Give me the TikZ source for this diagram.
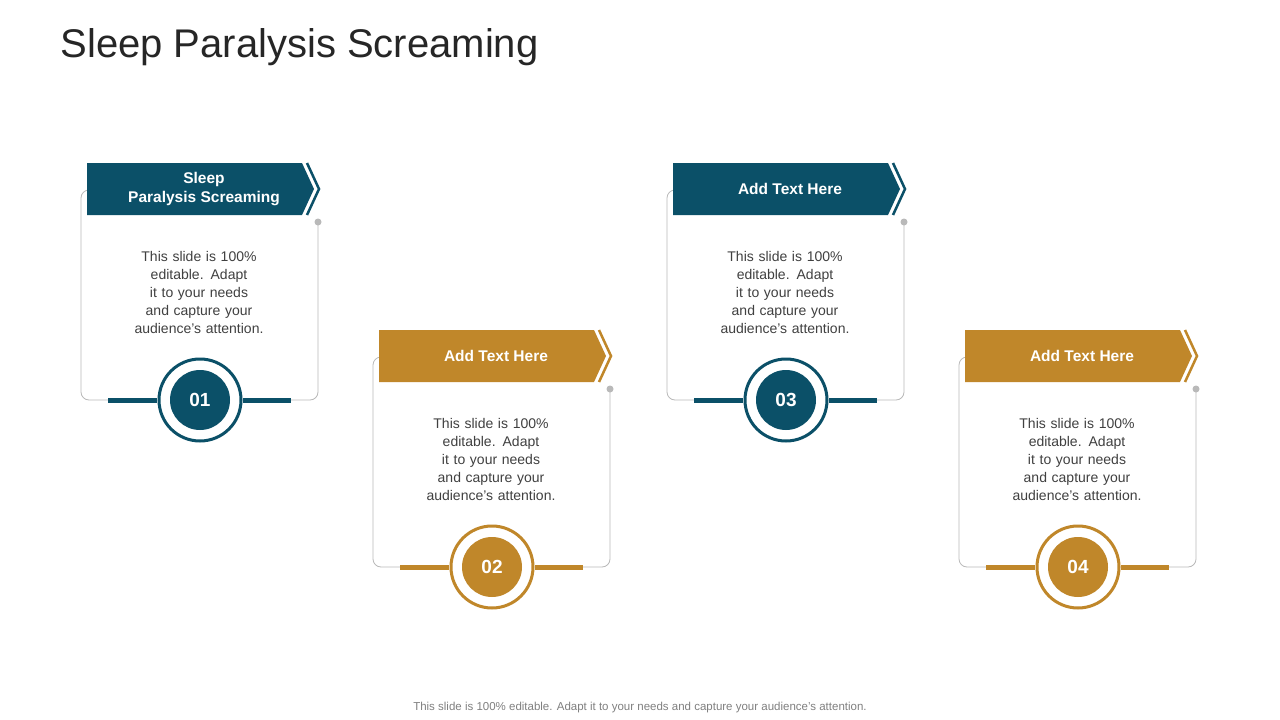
\documentclass[tikz,border=0pt]{standalone}
\usepackage{fontspec}
\setmainfont{Liberation Sans}
\definecolor{teal1}{HTML}{0B5068}
\definecolor{gold1}{HTML}{C0872A}
\definecolor{txt}{HTML}{404040}
\tikzset{
  cardline/.style={draw=gray!55, line width=0.8pt, rounded corners=8pt},
  bodytxt/.style={align=center, text=txt, font=\fontsize{14}{18}\selectfont, text width=150pt},
  bantxt/.style={align=center, text=white, font=\bfseries\fontsize{15.5}{19}\selectfont},
  numtxt/.style={text=white, font=\bfseries\fontsize{19}{22}\selectfont}
}
\newcommand{\mycard}[5]{%
\begin{scope}[shift={(#1,#2)}]
  \draw[cardline] (318,222) -- (318,400) -- (81,400) -- (81,190) -- (130,190);
  \fill[gray!55] (318,222) circle (3.5);
  \fill[#3] (87,163) -- (302,163) -- (314,189) -- (302,215) -- (87,215) -- cycle;
  \draw[#3, line width=2.5pt] (307,163) -- (319,189) -- (307,215);
  \node[bantxt] (b#5) at (204,189) {#4};
  \node[bodytxt] (t#5) at (199,292) {This slide is 100\% editable. Adapt it to your needs and capture your audience's attention.};
  \fill[#3] (108,397.5) rectangle (158,402.5);
  \fill[#3] (242,397.5) rectangle (291,402.5);
  \fill[white] (200,400) circle (43);
  \draw[#3, line width=3pt] (200,400) circle (41);
  \node[circle, fill=#3, minimum size=60pt, inner sep=0pt, numtxt] (n#5) at (200,400) {0#5};
\end{scope}}
\begin{document}
\begin{tikzpicture}[x=1pt,y=-1pt]
\useasboundingbox (0,0) rectangle (1280,720);
\fill[white] (0,0) rectangle (1280,720);
\node[anchor=west, text=black!85, font=\fontsize{40}{44}\selectfont] (title) at (57,47) {Sleep Paralysis Screaming};
\mycard{0}{0}{teal1}{Sleep\\Paralysis Screaming}{1}
\mycard{292}{167}{gold1}{Add Text Here}{2}
\mycard{586}{0}{teal1}{Add Text Here}{3}
\mycard{878}{167}{gold1}{Add Text Here}{4}
\node[text=gray, font=\fontsize{11.5}{13}\selectfont] (foot) at (640,708) {This slide is 100\% editable. Adapt it to your needs and capture your audience's attention.};
\end{tikzpicture}
\end{document}
